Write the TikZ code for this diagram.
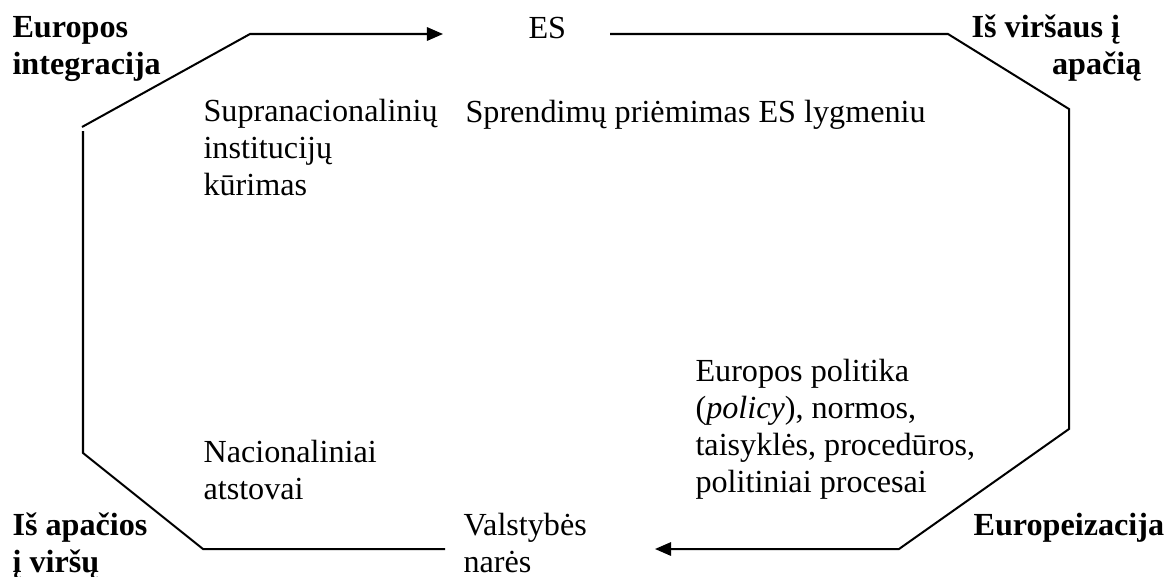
\documentclass[tikz,border=0pt]{standalone}
\usepackage{fontspec}
\setmainfont{Liberation Serif}
\usetikzlibrary{arrows.meta}

\tikzset{
  lbl/.style={inner sep=0pt, anchor=base west, align=left},
  cyc/.style={line width=0.75pt},
  cyctip/.style={cyc, -{Triangle[length=6pt,width=5pt]}}
}

\begin{document}
\begin{tikzpicture}[x=0.3731pt, y=-0.3731pt, font=\fontsize{12}{13.7}\selectfont]
		\useasboundingbox (0,0) rectangle (1165,576);
		% corner labels (base = last line)
		\node[lbl, font=\fontsize{12}{13.7}\selectfont\bfseries] (eint) at (12,74) {Europos\\integracija};
		\node[lbl, font=\fontsize{12}{13.7}\selectfont\bfseries, anchor=base east, align=right] (ivap) at (1142,74) {Iš viršaus į\hspace*{8pt}\\apačią};
		\node[lbl, font=\fontsize{12}{13.7}\selectfont\bfseries] (iav) at (12,572) {Iš apačios\\į viršų};
		\node[lbl, font=\fontsize{12}{13.7}\selectfont\bfseries] (eur) at (973,535) {Europeizacija};
		% inner labels
		\node[lbl] (es) at (528,38) {ES};
		\node[lbl] (spr) at (465,122) {Sprendimų priėmimas ES lygmeniu};
		\node[lbl] (sup) at (203,195) {Supranacionalinių\\institucijų\\kūrimas};
		\node[lbl] (nac) at (203,499) {Nacionaliniai\\atstovai};
		\node[lbl] (pol) at (695,492) {Europos politika\\(\textit{policy}), normos,\\taisyklės, procedūros,\\politiniai procesai};
		\node[lbl] (val) at (463,572) {Valstybės\\narės};
		% cycle
		\coordinate (a1) at (82,127);
		\coordinate (a2) at (250,34);
		\coordinate (a3) at (443,34);
		\coordinate (b1) at (610,34);
		\coordinate (b2) at (948,34);
		\coordinate (b3) at (1069,109);
		\coordinate (b4) at (1069,429);
		\coordinate (b5) at (899,549);
		\coordinate (b6) at (655,549);
		\coordinate (c1) at (445,549);
		\coordinate (c2) at (203,549);
		\coordinate (c3) at (83,453);
		\coordinate (c4) at (83,131);
		\draw[cyctip] (a1)--(a2)--(a3);
		\draw[cyctip] (b1)--(b2)--(b3)--(b4)--(b5)--(b6);
		\draw[cyc] (c1)--(c2)--(c3)--(c4);
	\end{tikzpicture}
\end{document}
